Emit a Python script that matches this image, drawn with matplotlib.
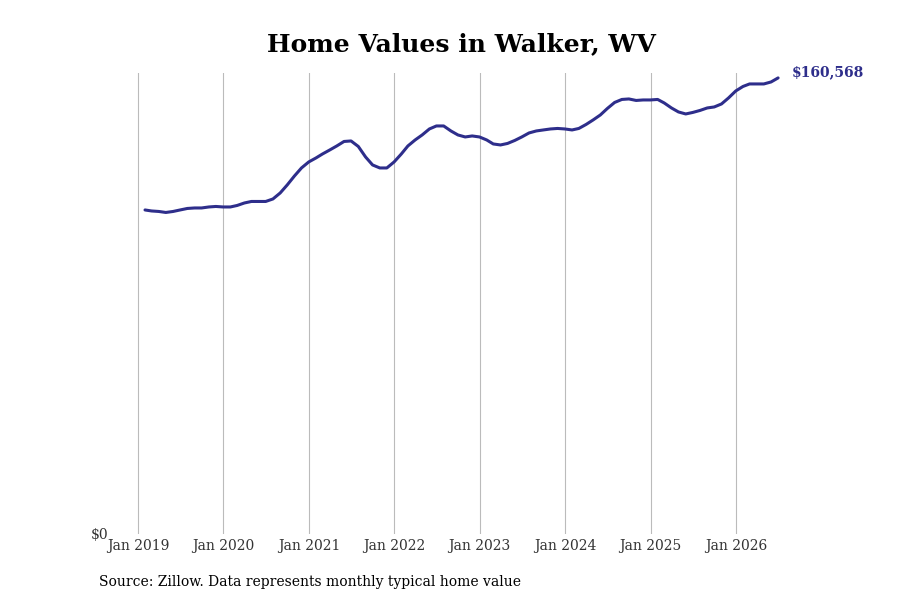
import matplotlib
matplotlib.use("Agg")
import matplotlib.pyplot as plt
import matplotlib.dates as mdates
import pandas as pd

plt.rcParams['font.family'] = ['DejaVu Serif']

dates = pd.date_range("2019-01-31", periods=90, freq="ME")
values = [
    114080, 113728, 113552, 113200, 113552, 114080, 114609, 114785, 114785, 115137,
    115313, 115137, 115137, 115665, 116545, 117073, 117073, 117073, 117954, 120066,
    122883, 126052, 128869, 130981, 132390, 133798, 135206, 136615, 138199, 138375,
    136439, 132742, 129925, 128869, 128869, 130981, 133798, 136615, 138727, 140488,
    142601, 143657, 143657, 141896, 140488, 139784, 140136, 139784, 138727, 137319,
    136967, 137495, 138553, 139784, 141192, 141896, 142248, 142601, 142777, 142601,
    142248, 142777, 144185, 145769, 147530, 149819, 151933, 152989, 153164, 152636,
    152811, 152811, 152989, 151755, 149995, 148586, 147882, 148410, 149114, 149995,
    150347, 151403, 153516, 155980, 157567, 158445, 158445, 158445, 159149, 160568,
]
tick_years = [2019, 2020, 2021, 2022, 2023, 2024, 2025, 2026]
tick_labels = [f"Jan {y}" for y in tick_years]
title = "Home Values in Walker, WV"
source = "Source: Zillow. Data represents monthly typical home value"
line_color = "#2e2e8b"

W, H = 900, 600
fig = plt.figure(figsize=(9, 6), dpi=100)
ax_l, ax_r, ax_t, ax_b = 100, 800, 73, 534
ax = fig.add_axes([ax_l / W, (H - ax_b) / H, (ax_r - ax_l) / W, (ax_b - ax_t) / H])

tick_dates = [pd.Timestamp(f"{y}-01-01") for y in tick_years]
d0 = mdates.date2num(tick_dates[0])
d1 = mdates.date2num(tick_dates[-1])
ppd = (736 - 138) / (d1 - d0)
ax.set_xlim(d0 - (138 - ax_l) / ppd, d0 + (ax_r - 138) / ppd)
ax.set_ylim(0, 162300)

ax.plot(dates, values, color=line_color, lw=2.2, solid_capstyle='round', zorder=3)

ax.set_xticks(tick_dates)
ax.set_xticklabels(tick_labels, fontsize=10, color="#333333")
ax.tick_params(axis='x', length=0, pad=3.5)
ax.set_yticks([])
ax.grid(axis='x', color="#bbbbbb", lw=0.8)
for s in ax.spines.values():
    s.set_visible(False)

fig.text(108 / W, 1 - 535 / H, "$0", ha='right', va='center',
         fontsize=10, color="#333333")

ax.annotate(f"${values[-1]:,}", xy=(dates[-1], values[-1]), xytext=(10, 4),
            textcoords='offset points', fontsize=10, fontweight='bold',
            color=line_color, ha='left', va='center')

fig.text(461 / W, 1 - 44 / H, title, ha='center', va='center', fontsize=18,
         fontweight='bold', color='black')
fig.text(99 / W, 1 - 582 / H, source, ha='left', va='center', fontsize=10, color='black')

fig.savefig("out.png", dpi=100)
